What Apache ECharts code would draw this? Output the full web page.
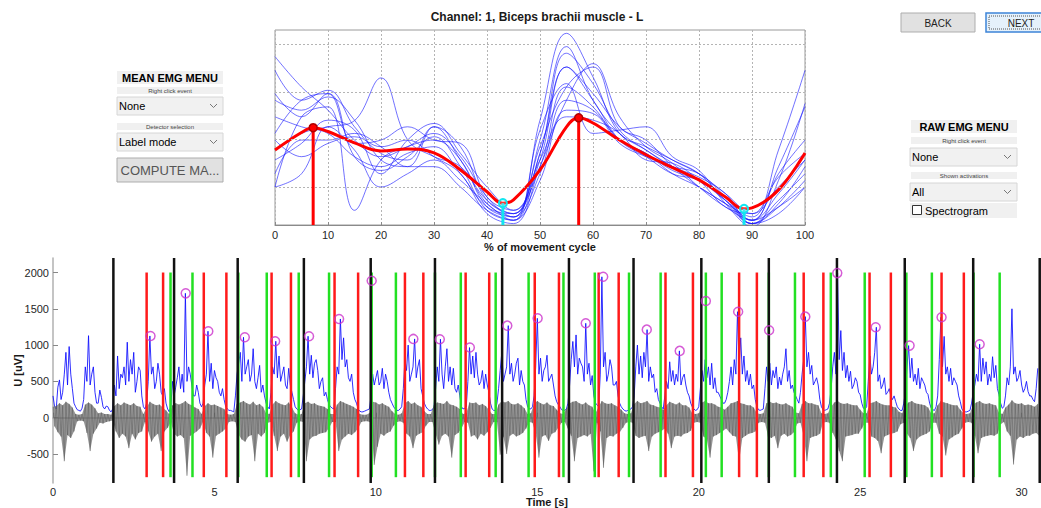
<!DOCTYPE html>
<html>
<head>
<meta charset="utf-8">
<title>EMG cycle analysis</title>
<script src="https://cdn.jsdelivr.net/npm/echarts@6/dist/echarts.min.js"></script>
<style>
  html, body { margin: 0; padding: 0; background: #ffffff; }
  #chart { width: 1041px; height: 508px; }
</style>
</head>
<body>
<div id="chart"></div>
<script>
// ---------- Mean EMG panel: one trace per movement cycle (% of cycle) ----------
const cyclePct = [0, 5, 10, 15, 20, 25, 30, 35, 40, 45, 50, 55, 60, 65, 70, 75, 80, 85, 90, 95, 100];
const cycle1  = [3.75, 3.11, 2.62, 1.99, 1.64, 1.85, 2.13, 1.64, 0.79, 0.37, 1.28, 2.83, 2.62, 1.99, 1.71, 1.28, 1.00, 0.65, 0.37, 1.78, 3.46];
const cycle2  = [3.46, 2.83, 3.04, 2.27, 1.71, 1.57, 2.27, 1.85, 0.72, 0.44, 1.99, 3.96, 2.83, 2.13, 1.78, 1.43, 1.14, 0.72, 0.30, 1.43, 2.69];
const cycle3  = [1.78, 2.13, 2.27, 2.40, 3.30, 2.00, 1.64, 1.43, 0.72, 0.44, 1.57, 3.53, 2.97, 2.27, 1.92, 1.57, 1.28, 0.86, 0.44, 1.21, 1.71];
const cycle4  = [1.00, 2.48, 2.69, 0.51, 1.57, 1.85, 1.99, 1.57, 0.58, 0.37, 2.41, 4.24, 3.32, 2.13, 1.85, 1.57, 1.28, 0.72, 0.30, 0.86, 1.57];
const cycle5  = [2.97, 2.48, 2.97, 1.92, 1.99, 2.27, 1.99, 1.92, 0.79, 0.51, 1.71, 3.82, 3.18, 2.20, 1.78, 1.43, 1.21, 0.86, 0.23, 0.72, 1.28];
const cycle6  = [2.83, 2.62, 2.90, 2.41, 1.57, 1.43, 2.27, 1.57, 0.65, 0.37, 1.85, 3.11, 3.53, 2.27, 1.99, 1.43, 1.00, 0.65, 0.23, 0.58, 1.14];
const cycle7  = [2.48, 2.27, 2.13, 1.64, 1.43, 1.71, 1.85, 1.28, 0.58, 0.44, 1.57, 2.48, 2.41, 2.13, 1.57, 1.50, 1.14, 0.58, 0.44, 1.00, 1.57];
const cycle8  = [1.57, 1.92, 2.41, 2.20, 1.28, 1.99, 2.34, 1.71, 1.00, 0.51, 1.43, 3.11, 2.69, 1.99, 1.71, 1.35, 1.14, 0.79, 0.30, 0.58, 1.00];
const cycle9  = [1.00, 1.28, 2.27, 1.78, 1.00, 1.28, 1.57, 1.14, 0.65, 0.30, 1.14, 2.62, 2.55, 1.92, 1.64, 1.43, 1.28, 0.79, 0.23, 0.65, 1.43];
const cycle10 = [2.13, 2.83, 2.97, 1.64, 1.35, 1.64, 2.06, 1.43, 0.51, 0.30, 2.20, 3.18, 2.13, 2.20, 2.27, 1.64, 1.35, 0.65, 0.16, 1.14, 2.76];
const cycle11 = [1.28, 1.99, 1.99, 2.13, 1.85, 1.43, 1.43, 1.00, 0.51, 0.30, 1.71, 3.53, 2.83, 1.99, 1.64, 1.28, 1.14, 0.72, 0.23, 0.44, 1.00];
const cycle12 = [1.99, 1.64, 1.92, 2.06, 1.85, 1.99, 1.64, 1.28, 0.44, 0.23, 1.43, 2.83, 3.60, 2.48, 1.85, 1.50, 1.00, 0.58, 0.30, 1.28, 1.99];
const cycles = [cycle1, cycle2, cycle3, cycle4, cycle5, cycle6, cycle7, cycle8, cycle9, cycle10, cycle11, cycle12];

// mean envelope across cycles
const meanPct = [0, 5, 7.2, 10, 15, 20, 25, 30, 35, 40, 43, 45, 50, 55, 57.3, 60, 65, 70, 75, 80, 85, 88.5, 90, 95, 100];
const meanVal = [1.78, 2.15, 2.25, 2.17, 1.93, 1.76, 1.80, 1.72, 1.36, 0.90, 0.66, 0.73, 1.36, 2.27, 2.46, 2.35, 1.99, 1.68, 1.41, 1.15, 0.79, 0.54, 0.56, 0.94, 1.72];

// detected maxima / minima of the mean envelope
const maxPct = [7.2, 57.3];
const maxVal = [2.25, 2.46];
const minPct = [43, 88.5];
const minVal = [0.66, 0.54];
const meanGridLevels = [1, 2, 3, 4];

// ---------- Raw EMG panel ----------
const envStep = 0.05; // seconds between envelope samples
const envelope = [
  300, 150, 120, 420, 520, 250, 350, 600, 900, 450, 980, 600, 400, 200, 150, 110, 100, 90, 130, 250,
  700, 500, 1130, 450, 600, 700, 350, 200, 200, 380, 280, 150, 120, 160, 150, 100, 80, 120, 450, 300,
  850, 400, 600, 550, 700, 450, 1040, 500, 800, 600, 900, 350, 500, 700, 650, 300, 150, 120, 200, 500,
  1126, 600, 700, 400, 500, 750, 600, 350, 300, 400, 200, 120, 80, 150, 500, 300, 420, 550, 700, 400,
  600, 350, 1713, 500, 700, 600, 450, 300, 300, 450, 350, 200, 150, 200, 450, 600, 1191, 500, 750, 400,
  650, 550, 500, 350, 300, 400, 250, 150, 120, 100, 100, 90, 80, 300, 600, 750, 900, 500, 1108, 600,
  700, 800, 500, 600, 950, 500, 400, 550, 720, 350, 450, 300, 200, 150, 120, 350, 700, 600, 1053, 550,
  850, 500, 600, 700, 450, 400, 680, 450, 350, 250, 150, 120, 100, 110, 120, 300, 500, 700, 1122, 600,
  860, 550, 750, 800, 650, 400, 500, 550, 300, 350, 250, 180, 150, 130, 120, 400, 700, 600, 1360, 800,
  1100, 700, 800, 550, 500, 600, 350, 250, 200, 120, 90, 80, 80, 90, 100, 110, 120, 300, 600, 450,
  550, 650, 450, 500, 680, 400, 600, 500, 350, 250, 200, 150, 120, 100, 100, 120, 150, 400, 800, 650,
  1000, 500, 600, 700, 1085, 550, 700, 800, 400, 300, 200, 150, 120, 100, 100, 110, 150, 400, 700, 500,
  1081, 600, 400, 700, 950, 500, 700, 450, 680, 400, 350, 450, 300, 150, 120, 130, 150, 500, 966, 600,
  850, 550, 900, 600, 450, 500, 650, 400, 600, 450, 350, 200, 120, 100, 100, 200, 400, 650, 900, 500,
  600, 700, 1268, 600, 750, 500, 600, 750, 820, 450, 650, 500, 450, 250, 150, 120, 120, 150, 300, 700,
  1369, 600, 820, 500, 650, 700, 860, 500, 550, 600, 450, 300, 220, 180, 150, 110, 100, 100, 120, 200,
  450, 800, 1050, 700, 1140, 600, 820, 750, 700, 500, 1300, 600, 750, 450, 580, 300, 200, 180, 150, 600,
  1941, 700, 900, 500, 600, 800, 700, 450, 450, 500, 300, 200, 150, 120, 100, 90, 100, 110, 120, 150,
  300, 700, 1000, 600, 850, 550, 900, 700, 1213, 500, 700, 550, 600, 350, 400, 250, 200, 150, 120, 300,
  500, 400, 770, 500, 650, 450, 600, 500, 920, 450, 550, 600, 450, 350, 300, 200, 150, 120, 100, 110,
  150, 400, 650, 500, 800, 550, 700, 450, 750, 400, 550, 350, 350, 300, 250, 200, 200, 250, 350, 500,
  700, 450, 800, 600, 1460, 700, 1100, 600, 850, 500, 650, 450, 600, 400, 450, 250, 150, 110, 100, 110,
  120, 400, 700, 500, 750, 450, 650, 550, 700, 400, 560, 450, 600, 700, 950, 500, 650, 400, 450, 350,
  300, 250, 200, 350, 600, 800, 1392, 700, 900, 600, 720, 450, 500, 550, 450, 250, 150, 110, 100, 110,
  120, 200, 400, 700, 900, 600, 1992, 800, 1200, 650, 900, 550, 720, 500, 640, 400, 450, 550, 500, 350,
  316, 200, 130, 120, 150, 500, 850, 600, 700, 900, 1246, 500, 590, 400, 450, 550, 320, 350, 400, 300,
  250, 300, 220, 150, 120, 100, 100, 200, 350, 700, 993, 550, 820, 500, 600, 450, 680, 400, 550, 500,
  450, 350, 320, 200, 130, 110, 100, 150, 300, 800, 1383, 700, 1120, 600, 700, 500, 680, 450, 550, 500,
  450, 300, 220, 120, 90, 80, 80, 90, 100, 200, 350, 450, 600, 500, 1012, 500, 820, 600, 770, 450,
  600, 500, 840, 550, 720, 400, 316, 200, 130, 150, 300, 550, 450, 700, 1500, 600, 700, 500, 550, 650,
  450, 350, 400, 500, 360, 300, 300, 250, 220, 400, 680
];

// raw signal: positive and negative excursion in each 0.1 s window
const rawStep = 0.1;
const rawUpper = [
  150, 160, 200, 170, 220, 190, 140, 50, 40, 50,
  180, 210, 180, 130, 60, 70, 50, 50, 40, 160,
  200, 170, 210, 190, 170, 200, 160, 150, 50, 140,
  220, 190, 170, 180, 140, 100, 50, 170, 200, 180,
  200, 230, 190, 170, 140, 120, 50, 160, 200, 170,
  180, 160, 140, 120, 50, 40, 50, 190, 210, 230,
  200, 180, 220, 170, 190, 150, 60, 50, 180, 230,
  200, 180, 170, 210, 140, 60, 40, 50, 200, 220,
  190, 200, 170, 160, 150, 120, 50, 50, 180, 230,
  210, 190, 170, 150, 120, 50, 40, 40, 60, 220,
  210, 180, 200, 170, 150, 90, 50, 40, 60, 200,
  230, 190, 210, 170, 150, 90, 50, 50, 170, 210,
  200, 190, 230, 180, 170, 150, 120, 50, 60, 210,
  200, 210, 170, 190, 160, 110, 50, 50, 180, 230,
  210, 230, 190, 180, 200, 170, 130, 50, 60, 190,
  230, 200, 180, 210, 170, 160, 110, 60, 50, 120,
  200, 220, 230, 200, 180, 210, 170, 150, 60, 150,
  230, 200, 190, 200, 170, 150, 110, 60, 50, 60,
  190, 230, 200, 210, 230, 180, 170, 150, 140, 110,
  170, 220, 200, 180, 210, 170, 170, 140, 60, 50,
  60, 210, 230, 200, 200, 180, 150, 140, 110, 150,
  200, 210, 230, 200, 190, 170, 170, 140, 60, 50,
  60, 200, 220, 200, 210, 190, 180, 200, 170, 150,
  70, 60, 190, 230, 200, 200, 180, 170, 60, 50,
  60, 150, 210, 230, 200, 190, 200, 180, 170, 170,
  110, 60, 60, 200, 210, 230, 200, 180, 170, 170,
  150, 140, 80, 60, 170, 210, 230, 200, 190, 180,
  170, 140, 60, 60, 170, 230, 210, 200, 180, 170,
  170, 110, 60, 50, 60, 180, 210, 230, 200, 190,
  200, 180, 170, 70, 50, 140, 180, 240, 200, 190,
  200, 170, 180, 170, 150, 190
];
const rawLower = [
  -120, -200, -260, -600, -240, -280, -190, -50, -40, -50,
  -210, -460, -220, -150, -70, -80, -60, -50, -40, -190,
  -280, -220, -260, -420, -220, -300, -210, -190, -60, -190,
  -330, -260, -220, -460, -190, -140, -60, -220, -260, -240,
  -280, -800, -250, -220, -190, -150, -60, -210, -260, -550,
  -250, -220, -190, -150, -60, -50, -60, -240, -300, -330,
  -260, -240, -600, -220, -260, -210, -70, -60, -250, -460,
  -260, -220, -330, -240, -190, -70, -50, -60, -600, -300,
  -260, -250, -220, -210, -200, -140, -60, -60, -460, -300,
  -260, -220, -240, -200, -150, -60, -50, -50, -70, -650,
  -400, -220, -250, -210, -190, -110, -60, -50, -70, -220,
  -260, -420, -250, -220, -200, -110, -60, -60, -220, -370,
  -250, -220, -260, -550, -240, -210, -150, -60, -70, -260,
  -240, -300, -220, -250, -200, -140, -60, -60, -510, -260,
  -500, -250, -220, -260, -240, -210, -150, -60, -70, -220,
  -550, -260, -240, -320, -220, -200, -140, -70, -60, -150,
  -250, -600, -280, -260, -240, -260, -220, -740, -70, -190,
  -690, -280, -250, -260, -220, -200, -140, -70, -60, -70,
  -250, -280, -260, -250, -460, -260, -220, -200, -180, -150,
  -220, -420, -260, -250, -260, -220, -210, -180, -70, -60,
  -70, -260, -300, -550, -260, -240, -210, -180, -150, -200,
  -250, -260, -600, -280, -250, -220, -210, -190, -70, -60,
  -70, -260, -280, -250, -420, -250, -220, -260, -240, -200,
  -80, -70, -250, -600, -280, -260, -250, -220, -70, -60,
  -70, -210, -300, -460, -600, -260, -250, -240, -220, -220,
  -150, -70, -70, -260, -280, -320, -490, -260, -240, -220,
  -210, -190, -90, -70, -220, -280, -460, -300, -260, -240,
  -220, -190, -70, -70, -220, -260, -520, -300, -270, -240,
  -220, -150, -70, -60, -70, -250, -490, -280, -260, -250,
  -240, -250, -220, -90, -60, -190, -250, -645, -300, -260,
  -280, -250, -250, -220, -210, -250
];

// event markers (s)
const cycleStarts = [1.87, 3.75, 5.72, 7.77, 9.84, 11.83, 13.91, 15.98, 17.98, 20.08, 22.17, 24.28, 26.38, 28.50, 30.56];
const onsetTimes  = [3.64, 4.32, 5.74, 6.62, 7.61, 8.55, 9.87, 10.62, 11.83, 12.63, 13.71, 14.73, 15.81, 16.78, 17.84, 18.82, 20.22, 20.71, 22.17, 22.98, 24.09, 25.14, 26.43, 27.22, 28.51, 29.32];
const offsetTimes = [2.90, 3.41, 4.67, 5.37, 6.77, 7.37, 8.72, 9.45, 10.90, 11.47, 12.78, 13.51, 14.92, 15.67, 16.90, 17.52, 18.97, 19.82, 21.25, 21.80, 23.25, 23.86, 25.29, 25.95, 27.52, 28.21];
const peakTimes = [3.02, 4.11, 4.81, 5.94, 6.88, 7.93, 8.86, 9.87, 11.16, 11.98, 12.91, 14.07, 15.01, 16.50, 17.04, 18.39, 19.41, 20.22, 21.22, 22.18, 23.30, 24.29, 25.48, 26.53, 27.52, 28.70];
const peakAmps  = [1126, 1713, 1191, 1108, 1053, 1122, 1360, 1886, 1085, 1081, 966, 1268, 1369, 1300, 1941, 1213, 920, 1607, 1460, 1205, 1392, 1992, 1246, 993, 1383, 1012];

const pctTicks  = [0, 10, 20, 30, 40, 50, 60, 70, 80, 90, 100];
const timeTicks = [0, 5, 10, 15, 20, 25, 30];
const ampTicks  = [-500, 0, 500, 1000, 1500, 2000];

// ---------- building blocks ----------
const FONT = '"Liberation Sans", Arial, sans-serif';
const MEAN_MIN = 0.2, MEAN_MAX = 4.31;
const RAW_MIN = -900, RAW_MAX = 2200;
const MARK_LO = -820, MARK_HI = 2000;

function verticalMarks(name, times, lo, hi, color, width, z) {
  return {
    name: name, type: 'custom', coordinateSystem: 'cartesian2d',
    xAxisIndex: 1, yAxisIndex: 1, z: z, silent: true,
    data: times.map(t => [t, hi]),
    encode: { x: 0, y: 1 },
    renderItem: function (params, api) {
      const t = api.value(0);
      const a = api.coord([t, lo]);
      const b = api.coord([t, hi]);
      return { type: 'line', shape: { x1: a[0], y1: a[1], x2: b[0], y2: b[1] },
               style: { stroke: color, lineWidth: width } };
    }
  };
}

function stems(name, xs, ys, color, hollow, z) {
  return {
    name: name, type: 'custom', coordinateSystem: 'cartesian2d',
    xAxisIndex: 0, yAxisIndex: 0, z: z, silent: true,
    data: xs.map((x, i) => [x, ys[i]]),
    encode: { x: 0, y: 1 },
    renderItem: function (params, api) {
      const x = api.value(0), y = api.value(1);
      const top = api.coord([x, y]);
      const base = api.coord([x, MEAN_MIN]);
      return { type: 'group', children: [
        { type: 'line', shape: { x1: base[0], y1: base[1], x2: top[0], y2: top[1] },
          style: { stroke: color, lineWidth: 3 } },
        { type: 'circle', shape: { cx: top[0], cy: top[1], r: 4 },
          style: hollow ? { fill: 'rgba(255,255,255,0.2)', stroke: color, lineWidth: 2 }
                        : { fill: color, stroke: '#b00000', lineWidth: 1.5 } }
      ] };
    }
  };
}

// filled band spanning the raw signal's excursions, drawn once through the axis scales
function rawBandSeries() {
  return {
    name: 'raw band', type: 'custom', coordinateSystem: 'cartesian2d',
    xAxisIndex: 1, yAxisIndex: 1, z: 3, silent: true,
    data: [[0, 0]],
    encode: { x: 0, y: 1 },
    renderItem: function (params, api) {
      const pts = [];
      rawUpper.forEach((u, i) => pts.push(api.coord([i * rawStep, u])));
      for (let i = rawLower.length - 1; i >= 0; i--) {
        pts.push(api.coord([i * rawStep + rawStep / 2, rawLower[i]]));
      }
      return { type: 'polygon', shape: { points: pts }, style: { fill: '#727272', opacity: 0.75 } };
    }
  };
}

const cycleSeries = cycles.map((c, k) => ({
  name: 'cycle ' + (k + 1), type: 'line', xAxisIndex: 0, yAxisIndex: 0,
  smooth: 0.4, symbol: 'none', silent: true, z: 2,
  data: cyclePct.map((p, i) => [p, c[i]]),
  lineStyle: { color: '#1a1aff', width: 1, opacity: 0.62 },
  markLine: k === 0 ? {
    silent: true, symbol: 'none', label: { show: false },
    lineStyle: { color: '#b4b4b4', width: 1, type: [2, 2] },
    data: meanGridLevels.map(v => ({ yAxis: v }))
  } : undefined
}));

const rawTrace = [];
rawUpper.forEach((u, i) => {
  const t = i * rawStep;
  rawTrace.push([t, u], [t + rawStep / 2, rawLower[i]]);
});
const envTrace = envelope.map((v, i) => [i * envStep, v]);

// ---------- control panels drawn as graphics ----------
function band(x, y, w, h) {
  return { type: 'rect', silent: true, shape: { x: x, y: y, width: w, height: h }, style: { fill: '#f0f0f0' } };
}
function txt(x, y, text, size, weight, color, align) {
  return { type: 'text', silent: true, x: x, y: y,
    style: { text: text, font: (weight || 'normal') + ' ' + size + 'px ' + FONT, fill: color || '#000',
             align: align || 'left', verticalAlign: 'middle' } };
}
function caption(x, y, w, h, text) {
  return [band(x, y, w, h), txt(x + w / 2, y + h / 2, text, 6, 'normal', '#444', 'center')];
}
function dropdown(x, y, w, h, text) {
  const cy = y + h / 2;
  return [
    { type: 'rect', silent: true, shape: { x: x, y: y, width: w, height: h },
      style: { fill: '#f1f1f1', stroke: '#d6d6d6', lineWidth: 1 } },
    txt(x + 2, cy, text, 11, 'normal', '#000', 'left'),
    { type: 'polyline', silent: true, shape: { points: [[x + w - 13, cy - 2], [x + w - 9.5, cy + 1.5], [x + w - 6, cy - 2]] },
      style: { stroke: '#777', lineWidth: 1, fill: null } }
  ];
}
function button(x, y, w, h, text, size, color) {
  return [
    { type: 'rect', silent: true, shape: { x: x, y: y, width: w, height: h },
      style: { fill: '#e1e1e1', stroke: '#adadad', lineWidth: 1 } },
    txt(x + w / 2, y + h / 2 + 0.5, text, size, 'normal', color, 'center')
  ];
}

const panelGraphics = [].concat(
  // left: mean EMG menu
  [band(117, 71, 106, 13), txt(170, 77.5, 'MEAN EMG MENU', 11, 'bold', '#000', 'center')],
  caption(117, 87, 106, 7, 'Right click event'),
  dropdown(117, 97, 106, 18, 'None'),
  caption(117, 123, 106, 7, 'Detector selection'),
  dropdown(117, 133, 106, 18, 'Label mode'),
  button(117, 158, 106, 24, 'COMPUTE MA...', 13, '#555'),
  // right: raw EMG menu
  [band(911, 120, 106, 13), txt(964, 126.5, 'RAW EMG MENU', 11, 'bold', '#000', 'center')],
  caption(911, 137, 106, 7, 'Right click event'),
  dropdown(910, 148, 107, 18, 'None'),
  caption(911, 172, 106, 7, 'Shown activations'),
  dropdown(910, 183, 107, 18, 'All'),
  [band(910, 203, 107, 15),
   { type: 'rect', silent: true, shape: { x: 912.5, y: 205.5, width: 9, height: 9 },
     style: { fill: '#ffffff', stroke: '#333', lineWidth: 1 } },
   txt(925, 211, 'Spectrogram', 11, 'normal', '#000', 'left')],
  // navigation buttons
  button(901, 13, 74, 19, 'BACK', 10, '#222'),
  [{ type: 'rect', silent: true, shape: { x: 986, y: 13, width: 60, height: 19 },
     style: { fill: '#e5f1fb', stroke: '#3c84d8', lineWidth: 1.5 } },
   { type: 'rect', silent: true, shape: { x: 989, y: 16, width: 60, height: 13 },
     style: { fill: null, stroke: '#555', lineWidth: 1, lineDash: [1, 1] } },
   txt(1021, 23, 'NEXT', 10, 'normal', '#222', 'center')],
  // panel title
  [txt(537, 17, 'Channel: 1, Biceps brachii muscle - L', 12, 'bold', '#1a1a1a', 'center')]
);

const axisText = { fontFamily: FONT, fontSize: 11, color: '#262626' };
const axisName = { fontFamily: FONT, fontSize: 11, fontWeight: 'bold', color: '#1a1a1a' };

const option = {
  animation: false,
  backgroundColor: '#ffffff',
  graphic: panelGraphics,
  grid: [
    { left: 275, top: 30, width: 530, height: 195, show: true, borderColor: '#9a9a9a', borderWidth: 1,
      backgroundColor: 'transparent', containLabel: false, outerBoundsMode: 'none' },
    { left: 53, top: 258, width: 988, height: 225, containLabel: false, outerBoundsMode: 'none' }
  ],
  xAxis: [
    { gridIndex: 0, type: 'value', min: 0, max: 100, interval: 10,
      axisLine: { lineStyle: { color: '#8a8a8a' } },
      axisTick: { inside: true, length: 3, lineStyle: { color: '#8a8a8a' } },
      axisLabel: Object.assign({ margin: 4, customValues: pctTicks, formatter: v => String(v) }, axisText),
      splitLine: { show: true, lineStyle: { color: '#b4b4b4', type: [2, 2] } },
      name: '% of movement cycle', nameLocation: 'middle', nameGap: 16, nameMoveOverlap: false, nameTextStyle: axisName },
    { gridIndex: 1, type: 'value', min: 0, max: 30.6,
      axisLine: { lineStyle: { color: '#a8a8a8', width: 1.5 } },
      axisTick: { inside: true, length: 5, customValues: timeTicks, lineStyle: { color: '#888' } },
      axisLabel: Object.assign({ margin: 3, customValues: timeTicks, formatter: v => String(v) }, axisText),
      splitLine: { show: false },
      name: 'Time [s]', nameLocation: 'middle', nameGap: 13.5, nameMoveOverlap: false, nameTextStyle: axisName }
  ],
  yAxis: [
    { gridIndex: 0, type: 'value', min: MEAN_MIN, max: MEAN_MAX,
      axisLine: { show: false }, axisTick: { show: false }, axisLabel: { show: false }, splitLine: { show: false } },
    { gridIndex: 1, type: 'value', min: RAW_MIN, max: RAW_MAX,
      axisLine: { show: true, lineStyle: { color: '#b0b0b0', width: 1.5 } },
      axisTick: { show: true, inside: true, length: 5, customValues: ampTicks, lineStyle: { color: '#888' } },
      axisLabel: Object.assign({ margin: 4, customValues: ampTicks, formatter: v => String(v) }, axisText),
      splitLine: { show: false },
      name: 'U [uV]', nameLocation: 'middle', nameGap: 30, nameRotate: 90, nameMoveOverlap: false, nameTextStyle: axisName }
  ],
  series: [].concat(
    cycleSeries,
    [{
      name: 'mean', type: 'line', xAxisIndex: 0, yAxisIndex: 0, smooth: 0.4, symbol: 'none', silent: true, z: 4,
      data: meanPct.map((p, i) => [p, meanVal[i]]),
      lineStyle: { color: '#ff0000', width: 3 }
    },
    stems('maxima', maxPct, maxVal, '#ff0000', false, 6),
    stems('minima', minPct, minVal, '#12e6f0', true, 6),
    {
      name: 'envelope', type: 'line', xAxisIndex: 1, yAxisIndex: 1, symbol: 'none', silent: true, z: 2,
      data: envTrace, lineStyle: { color: '#0c0cff', width: 1, opacity: 0.85 }
    },
    rawBandSeries(),
    {
      name: 'raw', type: 'line', xAxisIndex: 1, yAxisIndex: 1, symbol: 'none', silent: true, z: 4,
      data: rawTrace, lineStyle: { color: '#3c3c3c', width: 0.6, opacity: 0.5 }
    },
    verticalMarks('onsets', onsetTimes, MARK_LO, MARK_HI, '#22e022', 2.5, 5),
    verticalMarks('offsets', offsetTimes, MARK_LO, MARK_HI, '#ff1a1a', 2.5, 6),
    verticalMarks('cycles', cycleStarts, RAW_MIN, RAW_MAX, '#111111', 2.5, 7),
    {
      name: 'peaks', type: 'scatter', xAxisIndex: 1, yAxisIndex: 1, symbol: 'circle', symbolSize: 9, silent: true, z: 8,
      data: peakTimes.map((t, i) => [t, peakAmps[i]]),
      itemStyle: { color: 'rgba(0,0,0,0)', borderColor: '#cc33cc', borderWidth: 1.5 }
    }]
  )
};

const chart = echarts.init(document.getElementById('chart'), null, { renderer: 'svg', width: 1041, height: 508 });
chart.setOption(option);
</script>
</body>
</html>
